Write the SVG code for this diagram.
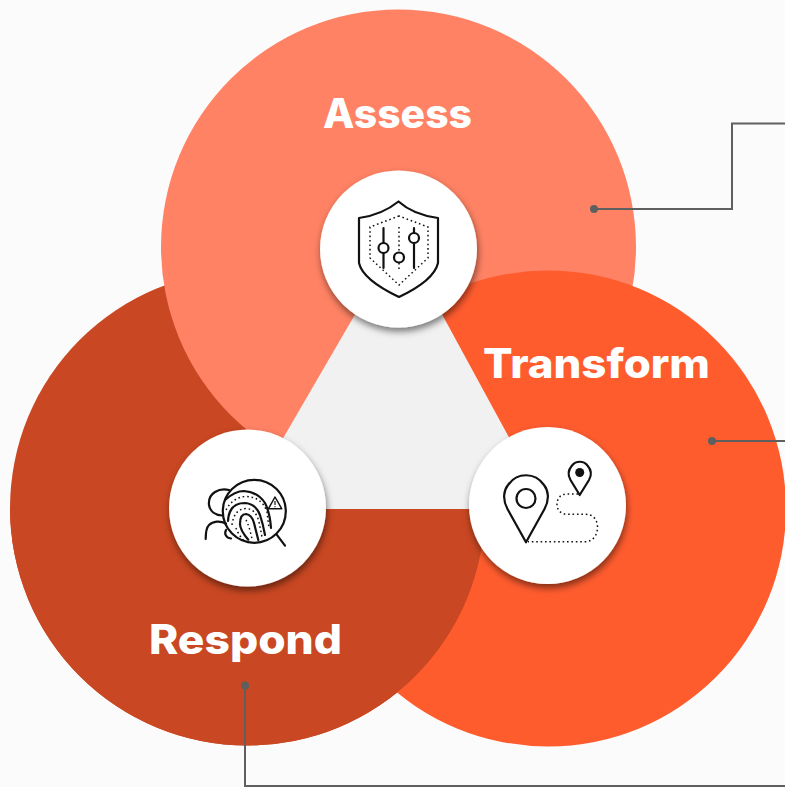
<svg xmlns="http://www.w3.org/2000/svg" width="785" height="787" viewBox="0 0 785 787">
<style>
.lbl{font-family:"Inter","Liberation Sans",sans-serif;font-weight:800;font-size:40.500px;fill:#fff}
.disc{fill:#fff;filter:url(#sh)}
.ic{fill:none;stroke:#111;stroke-width:2.200;stroke-linejoin:round;stroke-linecap:round}
.dot{fill:none;stroke:#111;stroke-width:1.500;stroke-dasharray:1.600 2.800}
.con{fill:none;stroke:#5f5f5f;stroke-width:2}
.end{fill:#5f5f5f}
</style>
<defs>
<filter id="sh" x="-20%" y="-20%" width="140%" height="140%"><feDropShadow dx="1" dy="4" stdDeviation="3.500" flood-color="#000" flood-opacity="0.5"/></filter>
<clipPath id="below"><rect x="0" y="508.500" width="785" height="279"/></clipPath>
</defs>
<rect width="785" height="787" fill="#fbfbfb"/>
<g id="petals">
<circle cx="247.500" cy="508" r="237.500" fill="#c94722"/>
<circle cx="398.500" cy="247" r="237.500" fill="#ff8264"/>
<circle cx="548" cy="508.500" r="238" fill="#ff5c2e"/>
<circle cx="247.500" cy="508" r="237.500" fill="#c94722" clip-path="url(#below)"/>
<polygon points="400,237 242,509 548,509" fill="#f1f1f1"/>
</g>
<g id="connectors">
<path class="con" d="M594 209H732V123.500H785"/>
<circle class="end" cx="594" cy="209" r="4"/>
<path class="con" d="M712 441H785"/>
<circle class="end" cx="712" cy="441" r="4"/>
<path class="con" d="M245 685.500V786H785"/>
<circle class="end" cx="245" cy="685.500" r="4"/>
</g>
<g id="assess">
<text class="lbl" x="323" y="128" textLength="149" lengthAdjust="spacingAndGlyphs">Assess</text>
<circle class="disc" cx="398.500" cy="249" r="78.500"/>
<path class="ic" d="M398.500 201.500C388 210 374 216 359 218V263C362 276 380 288 399 297C418 288 435 276 438 263V218C423 216 408 210 398.500 201.500Z"/>
<path class="dot" d="M399 216L370 227V258L399 285L428 258V227Z"/>
<path class="ic" d="M383.500 228V243M383.500 253V268M414 228V233M414 243V268"/>
<path class="dot" d="M399 227V253M399 263V270"/>
<circle class="ic" cx="383.500" cy="248" r="5"/>
<circle class="ic" cx="399" cy="257.500" r="5"/>
<circle class="ic" cx="414" cy="238" r="5"/>
</g>
<g id="transform">
<text class="lbl" x="483" y="378" textLength="227" lengthAdjust="spacingAndGlyphs">Transform</text>
<circle class="disc" cx="547.500" cy="505.500" r="78.500"/>
<path class="ic" d="M526 542.300L507.500 509C502 499 504 490 508 485C517 472 535 472 544 485C548 490 550 499 544.500 509Z"/>
<circle class="ic" cx="526" cy="498.500" r="9.500"/>
<path class="ic" d="M579.700 495L570.500 480C567 474 569 469 572 465.500C576 460.500 583.500 460.500 587.500 465.500C590.500 469 592.500 474 589 480Z"/>
<circle cx="579.700" cy="472.500" r="4.500" fill="#111"/>
<path class="dot" d="M578 494H567C560 494 557 499 557 504.500C557 510 561 514.300 567 514.300H586C593 514.300 597.500 520 597.500 527C597.500 535 593 541.700 585 541.700H528"/>
</g>
<g id="respond">
<text class="lbl" x="149" y="654" textLength="193" lengthAdjust="spacingAndGlyphs">Respond</text>
<circle class="disc" cx="247.500" cy="508" r="78.500"/>
<path class="ic" d="M229 490C225 489 219 489.500 215 492C210 495 208.500 500 209 505C210 511 215 515 222 515.500"/>
<path class="ic" d="M205.700 539C205.700 533 206 528 209 525C213 521 220 520.500 226 523.500"/>
<path class="ic" d="M226 530C224 534 226 538 231 538.500"/>
<path class="ic" d="M225 500Q235 491 244 491Q258 492 265 503Q270 513 271 528"/>
<path class="ic" d="M228 521Q229 503 245 503Q256 504 260 515Q263 524 265 535"/>
<path class="ic" d="M248.300 539.700Q240 530 240 524Q240 514 246 514Q252 515 254 523L258.300 540"/>
<path class="dot" d="M226 510Q233 497 246 496.500Q262 497 267 512L269 528"/>
<path class="dot" d="M232 525Q234 509 246 508.500Q256 509 259 522L262 537"/>
<path class="dot" d="M246 520Q249 525 252 539"/>
<path class="dot" d="M236 528Q238 534 244 541"/>
<circle class="ic" cx="254.300" cy="511.300" r="31.500"/>
<path class="ic" d="M276.700 534.700L285 545.700"/>
<path d="M275 497L268.500 508.700H281.700Z" fill="#fff" stroke="#111" stroke-width="1.500" stroke-linejoin="round"/>
<path d="M275 501V505M275 506.200V507.200" stroke="#111" stroke-width="1.200" fill="none"/>
</g>
</svg>
